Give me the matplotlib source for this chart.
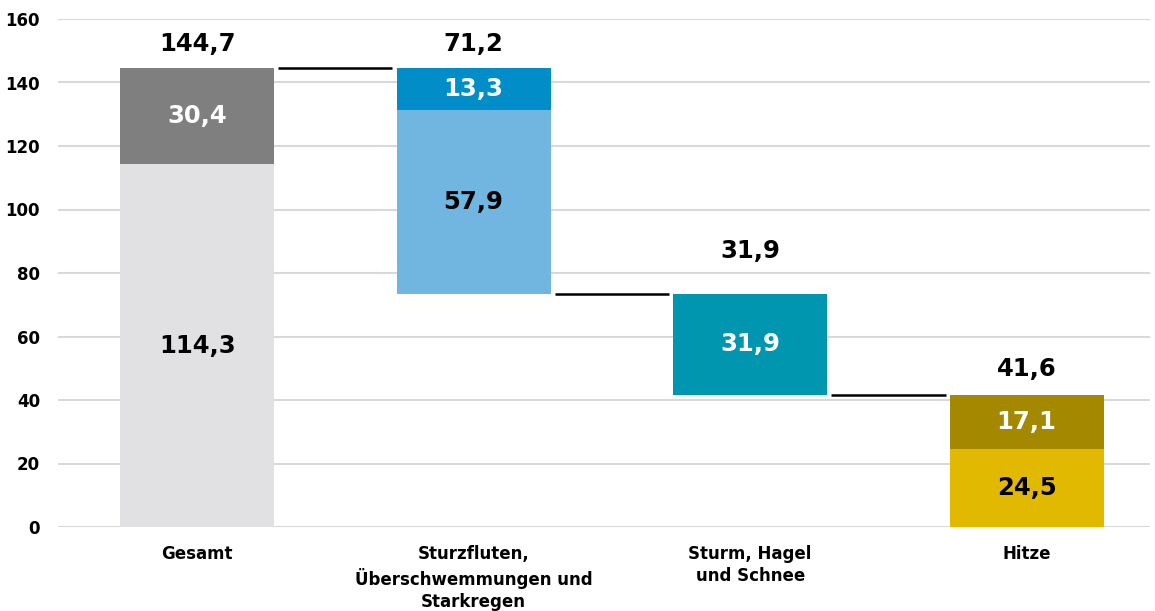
import matplotlib
matplotlib.use("Agg")
import matplotlib.pyplot as plt

plt.rcParams["font.family"] = ["DejaVu Sans"]
plt.rcParams["font.weight"] = "bold"

# ── Data ───────────────────────────────────────────────────────────────
categories = ["Gesamt", "Sturzfluten,\nÜberschwemmungen und\nStarkregen",
              "Sturm, Hagel\nund Schnee", "Hitze"]
totals = [144.7, 71.2, 31.9, 41.6]
# stacked segments per bar (bottom -> top)
segments = [[114.3, 30.4], [57.9, 13.3], [31.9], [24.5, 17.1]]
bases = [0, 144.7 - 71.2, 144.7 - 71.2 - 31.9, 0]
seg_colors = [["#E1E1E3", "#7F7F7F"], ["#70B6E0", "#008DC8"],
              ["#0096B0"], ["#E1B900", "#A38800"]]
seg_text = [["black", "white"], ["black", "white"], ["white"], ["black", "white"]]
total_offset = [7.5, 7.5, 13.5, 8.2]


def fmt(v):
    return f"{v:.1f}".replace(".", ",")


fig = plt.figure(figsize=(11.55, 6.11), dpi=100)
ax = fig.add_axes([58 / 1155, 84 / 611, (1150 - 58) / 1155, 508 / 611])

width = 0.557
x = list(range(len(categories)))
for i in x:
    bottom = bases[i]
    for val, col, tcol in zip(segments[i], seg_colors[i], seg_text[i]):
        ax.bar(i, val, width=width, bottom=bottom, color=col, zorder=3)
        ax.text(i, bottom + val / 2, fmt(val), ha="center", va="center",
                fontsize=17.5, color=tcol, zorder=4)
        bottom += val
    ax.text(i, bottom + total_offset[i], fmt(totals[i]), ha="center",
            va="center", fontsize=17.5, color="black")

# connector lines
levels = [bases[0] + sum(segments[0]), bases[1], bases[2]]
for i, lvl in enumerate(levels):
    ax.plot([i + width / 2 + 0.015, i + 1 - width / 2 - 0.015], [lvl, lvl],
            color="black", lw=1.8, zorder=3, solid_capstyle="butt")

ax.set_ylim(0, 160)
ax.set_xlim(-0.503, 3.446)
ax.set_yticks(range(0, 161, 20))
ax.set_xticks(x)
ax.set_xticklabels(categories, fontsize=12, linespacing=1.3)
ax.tick_params(axis="y", labelsize=12, length=0, pad=13)
ax.tick_params(axis="x", length=0, pad=13)
ax.grid(axis="y", color="#D9D9D9", lw=1.5, zorder=0)
for s in ax.spines.values():
    s.set_visible(False)

plt.savefig("out.png", dpi=100)
